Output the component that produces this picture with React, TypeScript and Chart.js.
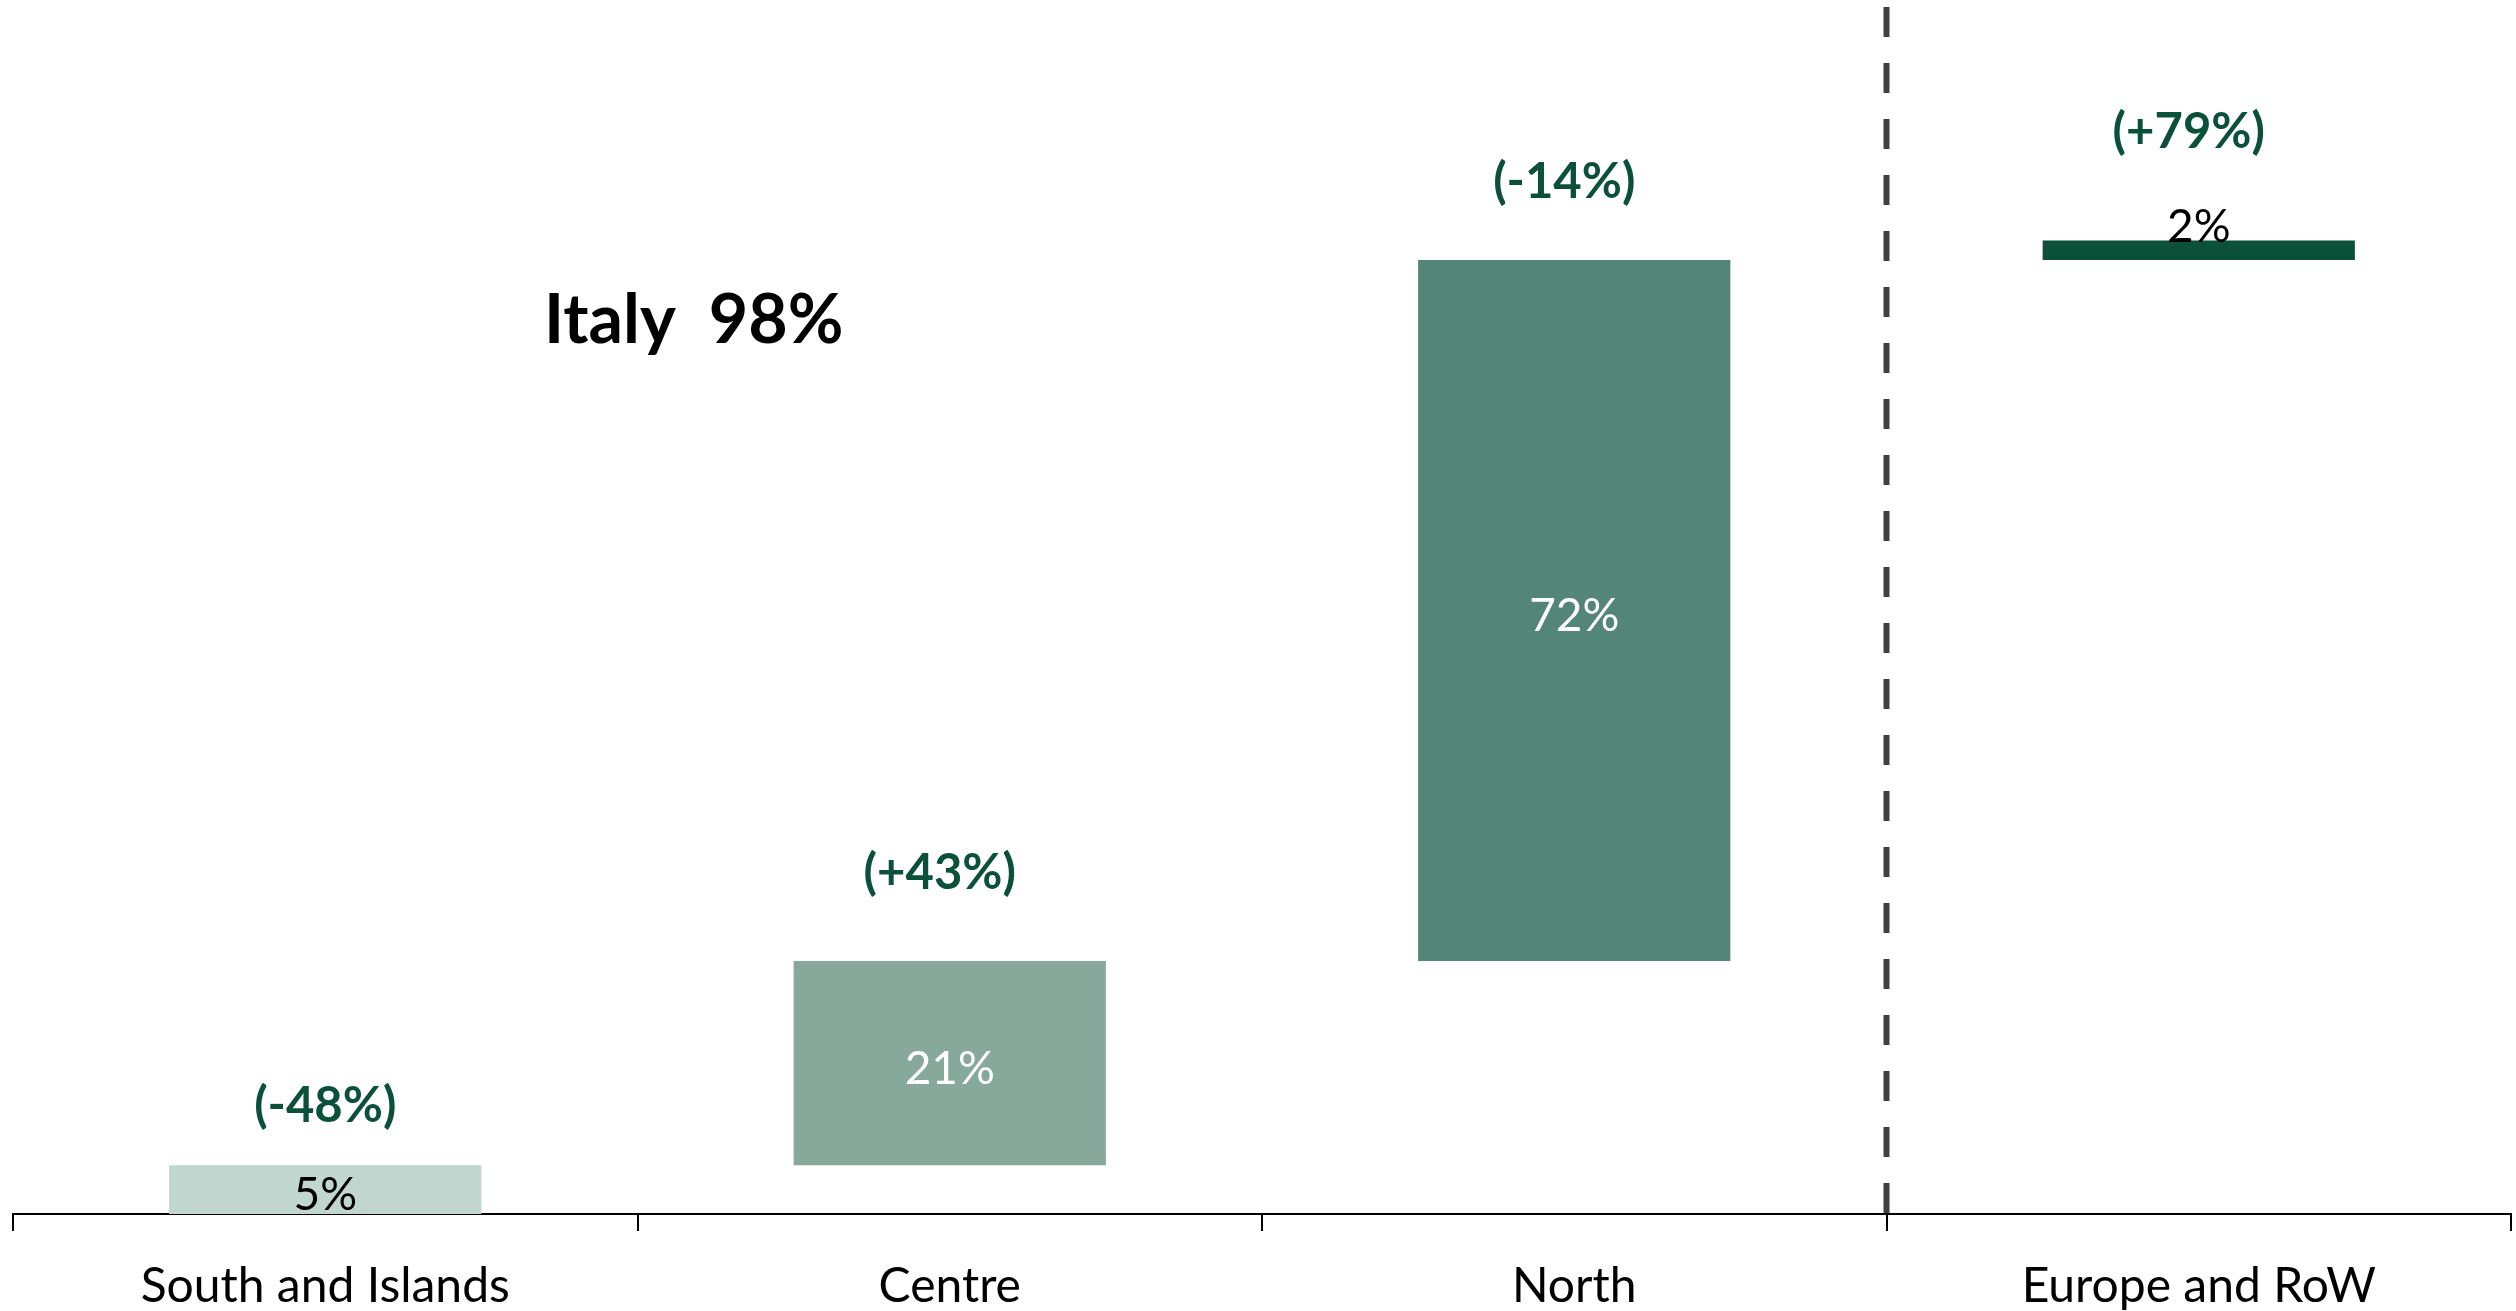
import React, { useEffect, useRef } from "react";
import { Chart, registerables } from "chart.js";

Chart.register(...registerables);

// ---- data ----
const categories = ["South and Islands", "Centre", "North", "Europe and RoW"];
const shares = [5, 21, 72, 2];
const changeLabels = ["(-48%)", "(+43%)", "(-14%)", "(+79%)"];
const changeLabelLevels = [11.1, 35.0, 106.0, 111.1];
const italyLabel = "Italy  98%";
const italyLevel = 91.7;
const italyCategoryPos = 0.59;

// ---- styles ----
const FONT = "Lato, 'Open Sans', sans-serif";
const barColors = ["#C1D6CF", "#86A99C", "#538676", "#0B5139"];
const valueLabelColors = ["#000000", "#FFFFFF", "#FFFFFF", "#000000"];
const valueLabelAnchor = ["center", "center", "center", "end"];
const changeLabelDx = [0, -10, -10, -10];
const changeColor = "#0B5139";

function buildFloating(values: number[]): [number, number][] {
  const out: [number, number][] = [];
  let acc = 0;
  for (const v of values) {
    out.push([acc, acc + v]);
    acc += v;
  }
  return out;
}

const labelsPlugin = {
  id: "customLabels",
  afterDatasetsDraw(chart: any) {
    const { ctx, chartArea, scales } = chart;
    const xs = scales.x;
    const ys = scales.y;
    const meta = chart.getDatasetMeta(0);
    ctx.save();

    // dashed separator between North and Europe
    const sepX = (xs.getPixelForValue(2) + xs.getPixelForValue(3)) / 2;
    ctx.strokeStyle = "#404040";
    ctx.lineWidth = 6;
    ctx.setLineDash([30, 26]);
    ctx.beginPath();
    ctx.moveTo(sepX, chartArea.top);
    ctx.lineTo(sepX, chartArea.bottom);
    ctx.stroke();
    ctx.setLineDash([]);

    // value labels
    ctx.font = `normal 46px ${FONT}`;
    ctx.textAlign = "center";
    meta.data.forEach((bar: any, i: number) => {
      const text = `${shares[i]}%`;
      ctx.fillStyle = valueLabelColors[i];
      const top = Math.min(bar.y, bar.base);
      const bottom = Math.max(bar.y, bar.base);
      if (valueLabelAnchor[i] === "end") {
        ctx.textBaseline = "alphabetic";
        ctx.fillText(text, bar.x, top + 1);
      } else {
        ctx.textBaseline = "middle";
        ctx.fillText(text, bar.x, (top + bottom) / 2 + 6);
      }
    });

    // change labels
    ctx.font = `bold 49px ${FONT}`;
    ctx.fillStyle = changeColor;
    ctx.textBaseline = "middle";
    changeLabels.forEach((t, i) => {
      ctx.fillText(t, xs.getPixelForValue(i) + changeLabelDx[i], ys.getPixelForValue(changeLabelLevels[i]));
    });

    // Italy total
    ctx.font = `bold 68px ${FONT}`;
    ctx.fillStyle = "#000000";
    ctx.fillText(italyLabel, xs.getPixelForValue(italyCategoryPos), ys.getPixelForValue(italyLevel));

    ctx.restore();
  },
};

export default function App() {
  const ref = useRef<HTMLCanvasElement | null>(null);
  useEffect(() => {
    if (!ref.current) return;
    const chart = new Chart(ref.current, {
      type: "bar",
      data: {
        labels: categories,
        datasets: [
          {
            data: buildFloating(shares) as any,
            backgroundColor: barColors,
            borderWidth: 0,
            categoryPercentage: 1,
            barPercentage: 0.5,
          },
        ],
      },
      options: {
        animation: false,
        responsive: true,
        maintainAspectRatio: false,
        layout: { padding: { left: 13, right: 5, top: 7, bottom: -32 } },
        plugins: {
          legend: { display: false },
          tooltip: { enabled: false },
          title: { display: false },
        },
        scales: {
          x: {
            offset: true,
            grid: {
              display: true,
              offset: true,
              drawOnChartArea: false,
              drawTicks: true,
              tickLength: 17,
              tickWidth: 2,
              tickColor: "#000000",
              color: "#000000",
              lineWidth: 2,
            },
            border: { display: true, color: "#000000", width: 2 },
            ticks: {
              color: "#000000",
              padding: 44,
              maxRotation: 0,
              autoSkip: false,
              font: { family: FONT, size: 48, weight: "normal" as any, lineHeight: 0.5 },
            },
          },
          y: {
            display: false,
            min: 0,
            max: 124,
          },
        },
      },
      plugins: [labelsPlugin],
    });
    return () => chart.destroy();
  }, []);
  return (
    <div style={{ position: "fixed", left: 0, top: 0, width: 2516, height: 1311, background: "#ffffff" }}>
      <canvas ref={ref} />
    </div>
  );
}
